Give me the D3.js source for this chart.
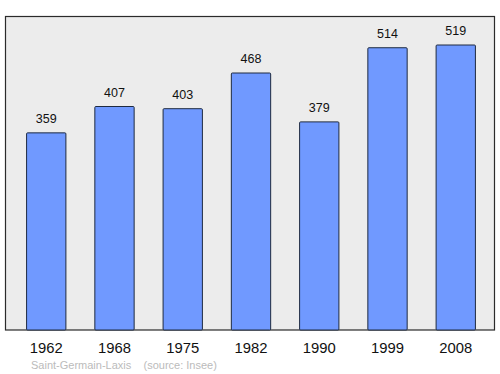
<!DOCTYPE html>
<html>
<head>
<meta charset="utf-8">
<script src="https://cdn.jsdelivr.net/npm/d3@7"></script>
<style>
  body { margin: 0; background: #fff; }
  text { font-family: "Liberation Sans", Arial, sans-serif; }
</style>
</head>
<body>
<svg id="chart" width="500" height="374"></svg>
<script>
// data
const years = ["1962", "1968", "1975", "1982", "1990", "1999", "2008"];
const population = [359, 407, 403, 468, 379, 514, 519];
const sourceText = "Saint-Germain-Laxis    (source: Insee)";

const svg = d3.select("#chart");

// plot frame
const frame = { left: 5.5, top: 16.5, right: 494.5, bottom: 330 };

svg.append("rect")
    .attr("x", frame.left)
    .attr("y", frame.top)
    .attr("width", frame.right - frame.left)
    .attr("height", frame.bottom - frame.top)
    .attr("fill", "#ececec")
    .attr("stroke", "#2b2b2b")
    .attr("stroke-width", 1.2);

// scales
let xScale = d3.scaleBand()
    .domain(years)
    .range([7, 495])
    .paddingInner(0.424)
    .paddingOuter(0.287);

let yScale = d3.scaleLinear()
    .domain([0, d3.max(population) * 1.1])
    .range([frame.bottom, frame.top]);

let data = years.map((y, i) => ({ year: y, value: population[i] }));

// bars
svg.selectAll("rect.bar")
    .data(data)
    .join("rect")
    .attr("class", "bar")
    .attr("x", d => xScale(d.year))
    .attr("y", d => yScale(d.value))
    .attr("width", xScale.bandwidth())
    .attr("height", d => frame.bottom - yScale(d.value))
    .attr("rx", 1)
    .attr("fill", "#7099ff")
    .attr("stroke", "#1e2a40")
    .attr("stroke-width", 1);

// value labels
svg.selectAll("text.value")
    .data(data)
    .join("text")
    .attr("class", "value")
    .attr("x", d => xScale(d.year) + xScale.bandwidth() / 2)
    .attr("y", d => yScale(d.value) - 10)
    .attr("text-anchor", "middle")
    .attr("font-size", 12.5)
    .attr("fill", "#111")
    .text(d => d.value);

// year labels
svg.selectAll("text.year")
    .data(data)
    .join("text")
    .attr("class", "year")
    .attr("x", d => xScale(d.year) + xScale.bandwidth() / 2)
    .attr("y", 352.5)
    .attr("text-anchor", "middle")
    .attr("font-size", 14.8)
    .attr("fill", "#111")
    .text(d => d.year);

// source line
svg.append("text")
    .attr("x", 31)
    .attr("y", 369)
    .attr("font-size", 11)
    .attr("fill", "#bbbbbb")
    .attr("xml:space", "preserve")
    .style("white-space", "pre")
    .text(sourceText);
</script>
</body>
</html>
